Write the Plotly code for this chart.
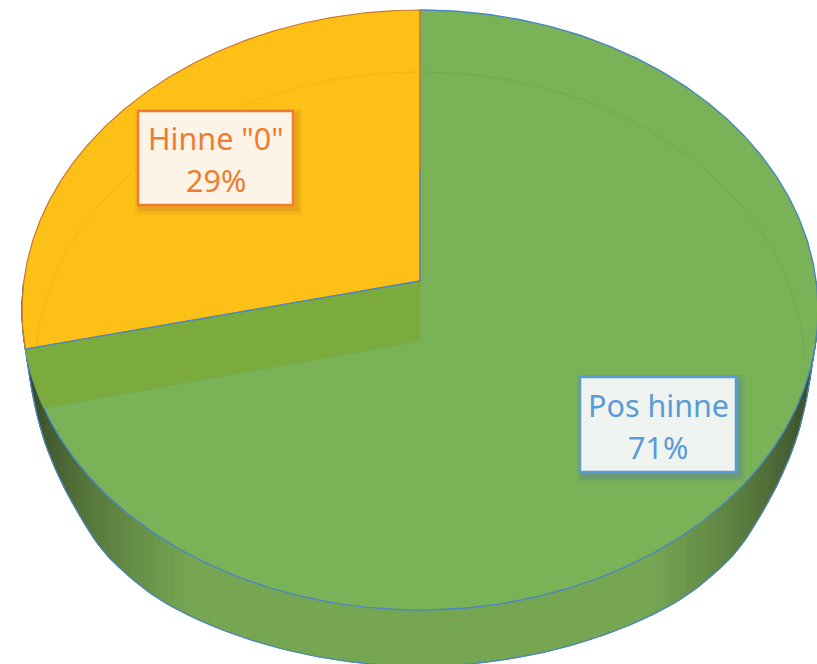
import numpy as np
import plotly.graph_objects as go

categories = ["Pos hinne", 'Hinne "0"']
values = [71.4, 28.6]
top_colors = ["#7AB257", "#FCC017"]
rim_colors = ["#4A86C2", "#C77A2E"]
label_text_colors = ["#5B9BD5", "#ED7D31"]
label_fill_colors = ["#EFF4F1", "#FDF3E7"]
band_color = "#7CAB3D"

W, H = 817, 664
CX = 420


def make_disc(top, bottom, centre, half_width):
    """Perspective projection of a unit disc; theta runs clockwise from 12 o'clock."""
    c = (2 * centre - top - bottom) / (top - bottom)
    a = top * (1 + c) - centre
    k = half_width * np.sqrt(1 - c * c)

    def project(theta, r=1.0):
        u, v = r * np.sin(theta), r * np.cos(theta)
        d = 1 + c * v
        return CX + k * u / d, (a * v + centre) / d

    return project


top_disc = make_disc(10, 610, 281, 398)
floor_disc = make_disc(72, 668, 341, 385)

share = values[1] / sum(values)
theta_split = 2 * np.pi * (1 - share)  # orange runs from here to 2*pi

fig = go.Figure()


def poly(x, y, fill, line=None, lw=0.0, close=True):
    fig.add_trace(go.Scatter(
        x=x, y=y, mode="lines", fill="toself" if close else None,
        fillcolor=fill, hoverinfo="skip", showlegend=False,
        line=dict(color=line or fill, width=lw),
    ))


# wall height against how far the rim point is from the side of the pie
grid = np.linspace(0, 1, 401)
raw = np.interp(grid, [0, 0.15, 0.25, 0.32, 0.52, 0.6, 0.75, 0.95, 1],
                [0, 0, 20, 31, 50, 60, 63, 57, 56])
profile = np.convolve(np.pad(raw, 16, mode="edge"), np.ones(33) / 33, mode="valid")


def wall_depth(theta):
    rim_x, rim_y = top_disc(theta)
    c2 = np.sqrt(np.clip(1 - ((rim_x - CX) / 398) ** 2, 0, 1))
    return np.interp(c2, grid, profile) * (rim_y > 300)


def wall_shade(theta):
    rim_x, _ = top_disc(theta)
    s = np.abs(rim_x - CX) / 398
    dark = np.array([44, 56, 32])
    light = np.array([118, 166, 82])
    t = np.clip((1 - s) / 0.42, 0, 1) ** 0.6
    col = dark + (light - dark) * t
    return "rgb(%d,%d,%d)" % tuple(col)


# side wall, drawn as shaded strips
wall_range = np.pi * 0.5, np.pi * 1.5
thetas = np.linspace(*wall_range, 161)
for t0, t1 in zip(thetas[:-1], thetas[1:]):
    ts = np.array([t0, t1])
    x, y = top_disc(ts)
    d = wall_depth(ts)
    poly([x[0], x[1], x[1], x[0], x[0]],
         [y[0], y[1], y[1] + d[1], y[0] + d[0], y[0]],
         wall_shade((t0 + t1) / 2), lw=1.0)

ts = np.linspace(*wall_range, 300)
x, y = top_disc(ts)
poly(x, y + wall_depth(ts), "rgba(0,0,0,0)", line="#4A86C2", lw=1.2, close=False)

# green part of the top
th_green = np.linspace(0, theta_split, 400)
x, y = top_disc(th_green)
ax, ay = top_disc(0.0, 0.0)
poly(np.r_[ax, x, ax], np.r_[ay, y, ay], top_colors[0], line=rim_colors[0], lw=1.4)

# orange part of the top
th_orange = np.linspace(theta_split, 2 * np.pi, 200)
x, y = top_disc(th_orange)
poly(np.r_[ax, x, ax], np.r_[ay, y, ay], top_colors[1], line=rim_colors[1], lw=1.2)

# inner wall of the removed slice seen through the top
fx0, fy0 = floor_disc(0.0, 0.0)
fx1, fy1 = floor_disc(theta_split)
scan = np.linspace(theta_split, theta_split - 0.4, 400)
sx, sy = top_disc(scan)
line_y = fy0 + (sx - fx0) * (fy1 - fy0) / (fx1 - fx0)
idx = int(np.argmax(sy >= line_y))
arc_x, arc_y = sx[: idx + 1], sy[: idx + 1]
tx, ty = top_disc(theta_split)
poly(np.r_[ax, arc_x, fx0, ax], np.r_[ay, arc_y, fy0, ay], band_color, line="#73A84F", lw=0.8)

# faint back rim of the floor, only above the split line
th = np.linspace(theta_split - 0.3, 2 * np.pi, 300)
x, y = floor_disc(th)
keep = y < ay + (x - ax) * (ty - ay) / (tx - ax)
poly(x[keep], y[keep], "rgba(0,0,0,0)", line="#F2B61C", lw=1.0, close=False)
th = np.linspace(0, np.pi * 0.52, 160)
x, y = floor_disc(th)
poly(x, y, "rgba(0,0,0,0)", line="#72A851", lw=1.0, close=False)

# split lines
poly([ax, tx], [ay, ty], "rgba(0,0,0,0)", line="#4A86C2", lw=1.4, close=False)
poly([ax, CX], [ay, 170], "rgba(0,0,0,0)", line="#4A86C2", lw=1.2, close=False)
poly([CX, CX], [170, 10], "rgba(0,0,0,0)", line="#A88A3A", lw=1.2, close=False)

# labels
boxes = [(580, 377, 736, 472), (138, 111, 293, 205)]
shapes = []
annotations = []
for name, val, box, txt, bg in zip(categories, values, boxes, label_text_colors, label_fill_colors):
    x0, y0, x1, y1 = box
    for grow, alpha in ((6, 0.07), (4, 0.09), (2, 0.12)):
        shapes.append(dict(type="rect", x0=x0 + 3 - grow, x1=x1 + 3 + grow,
                           y0=y0 + 4 - grow, y1=y1 + 4 + grow,
                           fillcolor="#4D7FA0" if txt == label_text_colors[0] else "#C87A1D",
                           opacity=alpha * 1.6, line_width=0, layer="above"))
    shapes.append(dict(type="rect", x0=x0, x1=x1, y0=y0, y1=y1, fillcolor=bg,
                       line=dict(color=txt, width=2.5), layer="above"))
    cx, cy = (x0 + x1) / 2, (y0 + y1) / 2
    annotations.append(dict(x=cx, y=cy - 20, text=name, showarrow=False,
                            font=dict(family="Noto Sans", size=30.5, color=txt)))
    annotations.append(dict(x=cx, y=cy + 22, text=f"{round(val)}%", showarrow=False,
                            font=dict(family="Noto Sans", size=30.5, color=txt)))

fig.update_layout(
    width=W, height=H, margin=dict(l=0, r=0, t=0, b=0, pad=0),
    paper_bgcolor="white", plot_bgcolor="white", showlegend=False,
    xaxis=dict(range=[0, W], visible=False, fixedrange=True),
    yaxis=dict(range=[H, 0], visible=False, fixedrange=True),
    shapes=shapes, annotations=annotations,
)

fig.write_html("out.html", config={"displayModeBar": False},
               post_script="document.body.style.margin='0';document.documentElement.style.overflow='hidden';")
